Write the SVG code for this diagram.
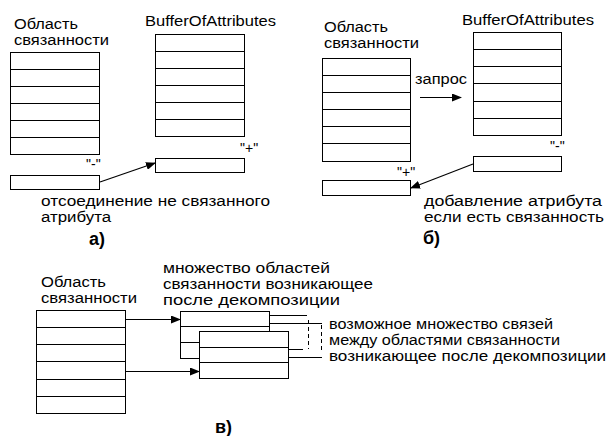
<svg xmlns="http://www.w3.org/2000/svg" width="610" height="436" viewBox="0 0 610 436">
<style>
text{font-family:"Liberation Sans",Arial,sans-serif;font-size:14px;fill:#000}
.q{font-size:14px}
.b{font-weight:bold;font-size:18px}
.t{fill:#fff;stroke:#000;stroke-width:1}
.r{stroke:#000;stroke-width:1;fill:none}
.c{stroke:#000;stroke-width:1.2;fill:none}
.d{stroke:#000;stroke-width:1;fill:none;stroke-dasharray:4,3}
</style>
<defs>
<marker id="ah" markerWidth="10" markerHeight="8" refX="9" refY="4" orient="auto" markerUnits="userSpaceOnUse">
<path d="M0,0 L10,4 L0,8 z" fill="#000"/>
</marker>
</defs>
<rect width="610" height="436" fill="#fff"/>

<!-- panel a -->
<g id="a-area">
<text x="14" y="29" textLength="64" lengthAdjust="spacingAndGlyphs">Область</text>
<text x="14" y="45" textLength="95" lengthAdjust="spacingAndGlyphs">связанности</text>
<rect class="t" x="10.5" y="52.5" width="89" height="102"/>
<path class="r" d="M10.5 69.5H99.5M10.5 86.5H99.5M10.5 103.5H99.5M10.5 120.5H99.5M10.5 137.5H99.5"/>
</g>
<g id="a-buffer">
<text x="145" y="26" textLength="131" lengthAdjust="spacingAndGlyphs">BufferOfAttributes</text>
<rect class="t" x="155.5" y="34.5" width="89" height="102"/>
<path class="r" d="M155.5 51.5H244.5M155.5 68.5H244.5M155.5 85.5H244.5M155.5 102.5H244.5M155.5 119.5H244.5"/>
</g>
<g id="a-plus">
<text class="q" x="240" y="153">"+"</text>
<rect class="t" x="155.5" y="158.5" width="89" height="14"/>
</g>
<g id="a-minus">
<text class="q" x="86" y="169">"-"</text>
<rect class="t" x="10.5" y="175.5" width="89" height="14"/>
</g>
<g id="a-label">
<text x="41" y="206" textLength="229" lengthAdjust="spacingAndGlyphs">отсоединение не связанного</text>
<text x="41" y="222" textLength="70" lengthAdjust="spacingAndGlyphs">атрибута</text>
<text class="b" x="89" y="245">а)</text>
</g>

<!-- panel b -->
<g id="b-area">
<text x="324" y="32" textLength="64" lengthAdjust="spacingAndGlyphs">Область</text>
<text x="324" y="48" textLength="95" lengthAdjust="spacingAndGlyphs">связанности</text>
<rect class="t" x="322.5" y="58.5" width="88" height="103"/>
<path class="r" d="M322.5 75.5H410.5M322.5 92.5H410.5M322.5 109.5H410.5M322.5 126.5H410.5M322.5 143.5H410.5"/>
</g>
<g id="b-buffer">
<text x="462" y="25" textLength="132" lengthAdjust="spacingAndGlyphs">BufferOfAttributes</text>
<rect class="t" x="473.5" y="32.5" width="88" height="103"/>
<path class="r" d="M473.5 49.5H561.5M473.5 66.5H561.5M473.5 83.5H561.5M473.5 101.5H561.5M473.5 118.5H561.5"/>
</g>
<g id="b-minus">
<text class="q" x="550" y="151">"-"</text>
<rect class="t" x="473.5" y="156.5" width="88" height="15"/>
</g>
<g id="b-plus">
<text class="q" x="397" y="177">"+"</text>
<rect class="t" x="322.5" y="180.5" width="88" height="15"/>
</g>
<g id="b-label">
<text x="415" y="84" textLength="52" lengthAdjust="spacingAndGlyphs">запрос</text>
<text x="424" y="206" textLength="178" lengthAdjust="spacingAndGlyphs">добавление атрибута</text>
<text x="424" y="222" textLength="180" lengthAdjust="spacingAndGlyphs">если есть связанность</text>
<text class="b" x="423" y="244">б)</text>
</g>

<!-- panel c -->
<g id="c-area">
<text x="41" y="287" textLength="65" lengthAdjust="spacingAndGlyphs">Область</text>
<text x="41" y="303" textLength="96" lengthAdjust="spacingAndGlyphs">связанности</text>
<rect class="t" x="36.5" y="310.5" width="89" height="103"/>
<path class="r" d="M36.5 327.5H125.5M36.5 344.5H125.5M36.5 361.5H125.5M36.5 379.5H125.5M36.5 396.5H125.5"/>
</g>
<g id="c-back">
<rect class="t" x="180.5" y="311.5" width="89" height="47"/>
<path class="r" d="M180.5 326.5H269.5M180.5 342.5H269.5"/>
</g>
<g id="c-front">
<rect class="t" x="199.5" y="331.5" width="89" height="47"/>
<path class="r" d="M199.5 347.5H288.5M199.5 362.5H288.5"/>
</g>
<g id="c-label">
<text x="163" y="273" textLength="167" lengthAdjust="spacingAndGlyphs">множество областей</text>
<text x="163" y="289" textLength="210" lengthAdjust="spacingAndGlyphs">связанности возникающее</text>
<text x="163" y="305" textLength="177" lengthAdjust="spacingAndGlyphs">после декомпозиции</text>
<text x="329" y="329" textLength="224" lengthAdjust="spacingAndGlyphs">возможное множество связей</text>
<text x="329" y="345" textLength="231" lengthAdjust="spacingAndGlyphs">между областями связанности</text>
<text x="329" y="361" textLength="277" lengthAdjust="spacingAndGlyphs">возникающее после декомпозиции</text>
<text class="b" x="215" y="433">в)</text>
</g>

<g id="connectors">
<path class="c" d="M100 182L155 163" marker-end="url(#ah)"/>
<path class="c" d="M420 97.5H461" marker-end="url(#ah)"/>
<path class="c" d="M473 164L411 188" marker-end="url(#ah)"/>
<path class="c" d="M125.5 319.5H180" marker-end="url(#ah)"/>
<path class="c" d="M125.5 371.5H199" marker-end="url(#ah)"/>
<path class="r" d="M269.5 315.5H307M269.5 323.5H322M288.5 349.5H303M288.5 357.5H322"/>
<path class="d" d="M308.5 320V349M321.5 325V353"/>
</g>
</svg>
